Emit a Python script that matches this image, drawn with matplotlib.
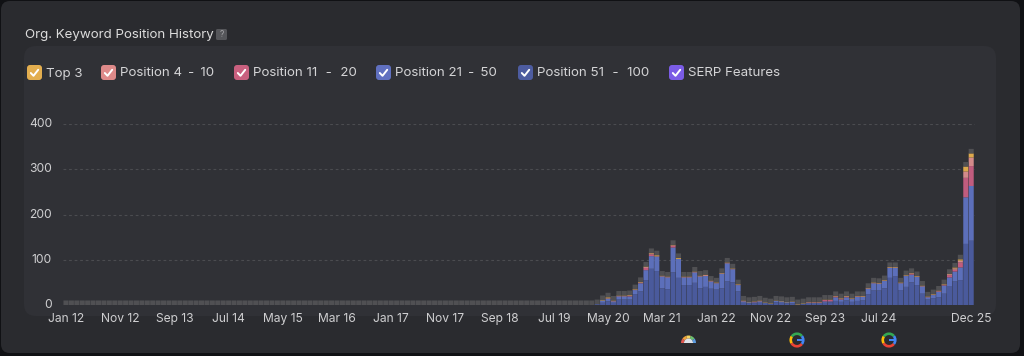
import matplotlib
matplotlib.use("Agg")
import matplotlib.pyplot as plt
from matplotlib.patches import FancyBboxPatch, Wedge, Arc, Rectangle
from matplotlib.transforms import ScaledTranslation

plt.rcParams["font.family"] = ["Inter", "DejaVu Sans"]

years_months = ["Jan 12", "Nov 12", "Sep 13", "Jul 14", "May 15", "Mar 16", "Jan 17", "Nov 17", "Sep 18",
                "Jul 19", "May 20", "Mar 21", "Jan 22", "Nov 22", "Sep 23", "Jul 24", "Dec 25"]
tick_positions = [0, 10, 20, 30, 40, 50, 60, 70, 80, 90, 100, 110, 120, 130, 140, 150, 167]
y_ticks = [0, 100, 200, 300, 400]
series_names = ["Top 3", "Position 4 - 10", "Position 11 - 20", "Position 21 - 50", "Position 51 - 100", "SERP Features"]

# months 0..97 carry only the SERP band; values below are month 98 onward
flat_months = 98
pos51_100 = [1, 5, 8, 5, 12, 12, 12, 24, 30, 55, 80, 75, 37, 35, 72, 60, 44, 44, 49, 37, 40, 36, 34, 37, 52, 50, 30,
             5, 4, 4, 5, 3, 2, 6, 5, 4, 4, 1, 2, 3, 3, 3, 5, 6, 9, 7, 10, 7, 9, 10, 24, 32, 32, 37, 60, 63, 33, 40,
             50, 44, 25, 12, 15, 17, 25, 42, 52, 55, 135, 142]
pos21_50 = [1, 5, 6, 3, 7, 7, 7, 9, 18, 22, 28, 32, 26, 26, 55, 42, 17, 17, 23, 26, 24, 16, 14, 32, 40, 29, 14,
            3, 2, 2, 3, 2, 1, 3, 3, 2, 3, 0, 1, 2, 2, 2, 3, 2, 8, 5, 7, 6, 9, 8, 12, 16, 15, 16, 22, 19, 15, 24,
            17, 18, 16, 5, 7, 12, 18, 19, 22, 28, 103, 121]
pos11_20 = [0, 0, 0, 0, 0, 0, 1, 0, 1, 5, 4, 0, 0, 0, 4, 0, 0, 0, 0, 0, 0, 0, 0, 0, 0, 0, 0,
            0, 0, 1, 0, 0, 0, 0, 0, 0, 0, 0, 0, 1, 1, 1, 3, 3, 2, 1, 1, 0, 1, 0, 0, 0, 0, 0, 0, 0, 0, 0,
            2, 0, 0, 0, 0, 1, 1, 5, 4, 11, 43, 44]
pos4_10 = [0, 0, 1, 1, 1, 1, 1, 1, 1, 2, 2, 1, 1, 1, 1, 0, 1, 1, 1, 1, 2, 1, 1, 1, 1, 1, 1,
           1, 0, 0, 1, 0, 0, 0, 0, 0, 0, 0, 0, 0, 0, 0, 0, 0, 0, 1, 1, 1, 0, 1, 1, 1, 1, 1, 1, 1, 1, 1,
           1, 1, 1, 1, 1, 1, 1, 2, 3, 4, 14, 19]
top3 = [0, 1, 2, 1, 1, 1, 1, 1, 1, 1, 1, 2, 1, 1, 1, 2, 1, 1, 1, 1, 1, 1, 1, 1, 1, 1, 1,
        1, 1, 1, 1, 1, 1, 1, 1, 1, 1, 1, 1, 1, 1, 1, 1, 1, 1, 1, 1, 1, 1, 1, 1, 1, 1, 1, 1, 1, 1, 1,
        1, 1, 1, 1, 1, 1, 1, 1, 2, 3, 11, 9]
serp = [10] * 168

all_series = [[0] * flat_months + s for s in (pos51_100, pos21_50, pos11_20, pos4_10, top3)] + [serp]
bar_colors = ["#4a5a9c", "#5c6fba", "#c05c7e", "#d48a8a", "#dca84c", "#505053"]
legend_colors = ["#e3ae4f", "#de8a8a", "#c9607f", "#6070c0", "#4d5ca0", "#7b5ce6"]
legend_box_x = [27, 101, 234, 376, 518, 669]
legend_pad = [0, 1, 2, 1, 2, 0]

W, H = 1024, 356
fig = plt.figure(figsize=(W / 100, H / 100), dpi=100, facecolor="#101114")

# page furniture, laid out in pixels
bg = fig.add_axes([0, 0, 1, 1], zorder=0)
bg.set_xlim(0, W)
bg.set_ylim(H, 0)
bg.axis("off")
bg.add_patch(FancyBboxPatch((1, 1), 1019, 352, boxstyle="round,pad=0,rounding_size=9", lw=0, fc="#2a2b2f"))
bg.add_patch(FancyBboxPatch((24, 46), 972, 270, boxstyle="round,pad=0,rounding_size=12", lw=0, fc="#303136"))

bg.text(25, 35, "Org. Keyword Position History", color="#dcdcdc", fontsize=9.6, va="center", ha="left")
bg.add_patch(FancyBboxPatch((216, 29), 11, 11, boxstyle="round,pad=0,rounding_size=1.5", lw=0, fc="#55565a"))
bg.text(221.5, 34.7, "?", color="#a5a5a8", fontsize=6, va="center", ha="center")

for name, col, x0, pad in zip(series_names, legend_colors, legend_box_x, legend_pad):
    bg.add_patch(FancyBboxPatch((x0, 65), 15, 15, boxstyle="round,pad=0,rounding_size=3", lw=0, fc=col))
    bg.plot([x0 + 3.8, x0 + 6.5, x0 + 11.2], [73, 75.8, 69.8], color="white", lw=1.4, solid_capstyle="round")
    spacer = "\u2009" * pad
    bg.text(x0 + 19, 73.5, name.replace(" - ", f" {spacer}-{spacer} "), color="#d4d4d6", fontsize=9.6,
            va="center", ha="left")

# gauge icon
for k, c in enumerate(["#e0574f", "#eea23c", "#f4d35e", "#6cc070", "#5b9be0"]):
    bg.add_patch(Wedge((688.5, 343), 7.5, 180 + k * 36, 180 + (k + 1) * 36, width=3, fc=c, lw=0))
bg.add_patch(Wedge((688.5, 343), 4.5, 180, 360, fc="#dfe3ea", lw=0))

# search-engine icons
for cx in (797, 889):
    for t1, t2, c in [(-40, 40, "#4285f4"), (40, 150, "#ea4335"), (150, 215, "#fbbc05"), (215, 320, "#34a853")]:
        bg.add_patch(Arc((cx, 340), 12.5, 12.5, angle=0, theta1=t1, theta2=t2, color=c, lw=1.9))
    bg.add_patch(Rectangle((cx, 339), 7, 2, fc="#4285f4", lw=0))

# chart
ax = fig.add_axes([63 / W, 1 - 305 / H, (975 - 63) / W, (305 - 124) / H], zorder=1)
ax.patch.set_alpha(0)
x = list(range(168))
bottom = [0] * 168
for vals, col in zip(all_series, bar_colors):
    bars = ax.bar(x, vals, bottom=bottom, width=0.93, color=col, linewidth=0, zorder=3)
    for b in bars:
        b.set_snap(False)
    bottom = [a + b for a, b in zip(bottom, vals)]

ax.set_xlim(-0.55, 167.7)
ax.set_ylim(0, 400)
ax.set_yticks(y_ticks)
ax.set_xticks(tick_positions)
ax.set_xticklabels(years_months)
ax.tick_params(axis="both", length=0, colors="#cfcfd1", labelsize=8.7)
ax.tick_params(axis="y", pad=8)
ax.tick_params(axis="x", pad=6)
lift = ScaledTranslation(0, 1.3 / 100, fig.dpi_scale_trans)
for lab in ax.get_yticklabels():
    lab.set_transform(lab.get_transform() + lift)
ax.grid(axis="y", color="#4b4c50", lw=0.8, ls=(0, (2.5, 2.5)), zorder=1)
ax.yaxis.get_gridlines()[0].set_visible(False)
for sp in ax.spines.values():
    sp.set_visible(False)

fig.savefig("out.png", dpi=100, facecolor=fig.get_facecolor())
